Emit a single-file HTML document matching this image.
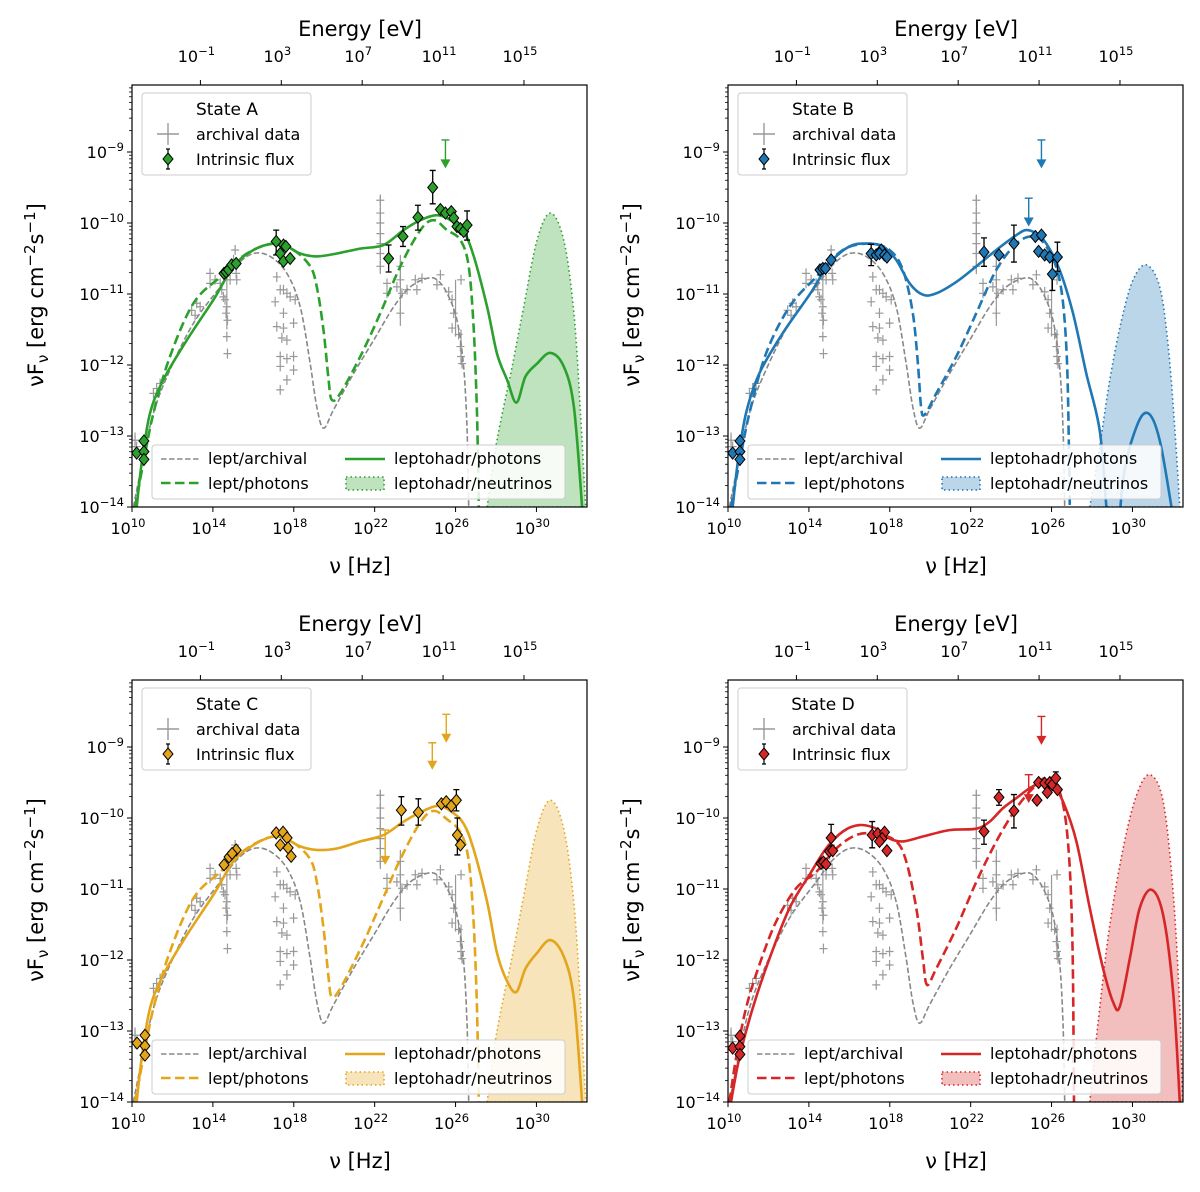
<!DOCTYPE html>
<html><head><meta charset="utf-8"><style>
html,body{margin:0;padding:0;background:#fff;}
svg{display:block;font-family:"DejaVu Sans","Liberation Sans",sans-serif;}
</style></head><body>
<svg id="fig" width="1200" height="1192" viewBox="0 0 1200 1192" xmlns="http://www.w3.org/2000/svg"></svg>
<script>
// ---------- shared data (log10 nu [Hz], log10 nuFnu) ----------
const leptArchNu=[10.07,10.40,11.06,11.88,13.04,14.36,15.18,16.01,16.83,17.66,18.32,18.81,19.14,19.47,19.97,20.96,21.95,22.94,23.76,24.59,25.08,25.58,26.07,26.40,26.57,26.65];
const leptArchF=[-14,-13.53,-12.68,-12.07,-11.41,-10.90,-10.59,-10.43,-10.47,-10.71,-11.18,-11.98,-12.59,-12.89,-12.63,-12.12,-11.65,-11.18,-10.90,-10.78,-10.80,-10.99,-11.37,-12.02,-12.92,-14];
const archNu=[10.15,10.23,11.06,11.22,11.39,12.95,13.2,13.37,13.12,13.86,13.86,14.11,14.36,14.44,14.52,14.6,14.69,14.65,14.72,14.69,14.72,14.85,15.1,15.02,15.15,15.18,17.16,17.33,17.49,17.66,17.82,18.07,17.08,17.49,17.16,17.49,17.99,17.41,17.66,17.33,17.66,17.99,17.33,17.99,17.66,17.33,22.28,22.28,22.28,22.28,22.28,22.28,22.28,22.61,22.61,23.27,23.27,23.35,23.27,23.1,23.6,24.09,24.01,24.34,25.08,25.25,25.66,25.83,25.91,25.83,26.15,26.24,26.27,26.32,26.27];
const archF=[-13.06,-13.15,-12.40,-12.33,-12.26,-11.23,-11.13,-11.18,-11.30,-10.71,-10.85,-10.80,-10.85,-10.94,-11.04,-11.08,-11.18,-11.27,-11.37,-11.60,-11.84,-10.80,-10.38,-10.52,-10.71,-10.80,-10.76,-10.94,-10.94,-10.99,-11.04,-11.08,-11.11,-11.27,-11.46,-11.48,-11.41,-11.62,-11.65,-11.88,-11.91,-11.88,-12.02,-12.07,-12.21,-12.35,-9.68,-9.86,-10.0,-10.15,-10.29,-10.43,-10.61,-10.85,-10.99,-10.61,-10.80,-10.99,-11.27,-10.90,-10.94,-10.94,-10.80,-10.78,-10.87,-10.73,-10.97,-11.08,-11.27,-11.48,-11.57,-11.74,-11.88,-11.98,-10.80];
const archErrNu=[22.28,23.27,14.69,10.15,26.0,26.27];
const archErrLo=[-10.72,-11.45,-11.5,-13.25,-11.6,-12.0];
const archErrHi=[-9.6,-10.45,-10.6,-12.95,-10.8,-11.5];
const tickY=[-14,-13,-12,-11,-10,-9];
const tickX=[10,14,18,22,26,30];
const tickE=[-1,3,7,11,15];

// ---------- State A ----------
const aSolidNu=[10.23,10.48,10.89,11.55,12.71,14.03,15.02,16.01,17.0,17.66,18.32,19.14,20.13,21.29,22.44,23.43,24.26,25.08,25.74,26.4,26.9,27.56,28.05,28.55,29.01,29.46,30.03,30.69,31.35,31.85,32.26];
const aSolidF=[-14,-13.38,-12.68,-12.21,-11.65,-11.08,-10.61,-10.38,-10.29,-10.33,-10.43,-10.47,-10.43,-10.36,-10.31,-10.10,-9.96,-9.89,-9.96,-10.12,-10.47,-11.18,-11.84,-12.21,-12.53,-12.16,-11.98,-11.83,-12.02,-12.59,-14];
const aDashNu=[10.15,10.56,11.06,11.88,13.04,14.36,15.68,17.0,17.99,18.81,19.14,19.47,19.72,19.88,20.3,21.29,22.28,23.27,24.26,24.92,25.58,26.24,26.65,26.9,27.06,27.15];
const aDashF=[-14,-13.38,-12.68,-11.88,-11.13,-10.76,-10.43,-10.29,-10.38,-10.61,-10.90,-11.51,-12.21,-12.49,-12.40,-11.88,-11.27,-10.61,-10.10,-9.96,-10.10,-10.24,-10.61,-11.51,-12.68,-14];
const aNeuNu=[27.56,28.05,28.8,29.37,30.03,30.69,31.35,31.85,32.18,32.43];
const aNeuF=[-14,-13.06,-12.02,-11.18,-10.24,-9.86,-10.24,-11.27,-12.68,-14];
const aPtNu=[10.23,10.59,10.59,10.59,14.55,14.65,14.77,14.93,15.15,17.13,17.49,17.61,17.33,17.49,17.82,22.69,23.40,24.14,24.87,25.25,25.50,25.79,25.91,26.07,26.24,26.40,26.57];
const aPtF=[-13.24,-13.07,-13.22,-13.33,-10.71,-10.69,-10.66,-10.59,-10.57,-10.26,-10.31,-10.33,-10.43,-10.54,-10.50,-10.50,-10.19,-9.92,-9.50,-9.81,-9.86,-9.84,-9.93,-10.05,-10.08,-10.12,-10.03];
const aErrNu=[22.69,23.40,24.14,24.87,26.57,17.13];
const aErrLo=[-10.69,-10.33,-10.10,-9.73,-10.24,-10.45];
const aErrHi=[-10.31,-10.05,-9.75,-9.26,-9.83,-10.10];
const aUlNu=[25.5];
const aUlTop=[-8.83];
const aUlTip=[-9.23];

// ---------- State B ----------
const bSolidNu=[10.23,10.48,10.89,11.55,12.71,14.03,15.02,16.01,16.83,17.66,18.32,18.98,19.64,20.3,21.29,22.28,23.27,24.26,24.75,25.25,25.74,26.4,27.06,27.72,28.38,28.71,29.04,29.54,30.2,30.78,31.35,31.93];
const bSolidF=[-14,-13.38,-12.68,-12.12,-11.55,-11.01,-10.57,-10.33,-10.29,-10.33,-10.52,-10.85,-11.01,-10.99,-10.83,-10.61,-10.38,-10.17,-10.10,-10.15,-10.29,-10.66,-11.27,-12.12,-12.92,-14,-15.2,-13.62,-12.87,-12.68,-13.06,-14];
const bDashNu=[10.15,10.56,11.06,11.88,13.04,14.36,15.68,17.0,17.99,18.65,19.14,19.39,19.55,19.72,20.3,21.29,22.28,23.27,24.26,25.08,25.74,26.4,26.73,26.86,26.9];
const bDashF=[-14,-13.38,-12.68,-11.84,-11.18,-10.76,-10.38,-10.29,-10.38,-10.66,-11.27,-11.98,-12.59,-12.70,-12.40,-11.88,-11.27,-10.66,-10.29,-10.19,-10.33,-10.80,-11.74,-13.15,-14];
const bNeuNu=[27.89,28.38,28.88,29.46,30.03,30.69,31.35,31.77,32.1,32.34];
const bNeuF=[-14,-13.15,-12.21,-11.37,-10.80,-10.59,-10.90,-11.74,-12.92,-14];
const bPtNu=[10.23,10.59,10.59,10.59,14.55,14.69,14.82,15.1,17.08,17.33,17.58,17.49,17.74,17.86,22.66,23.4,24.14,25.2,25.5,25.36,25.66,25.91,26.04,26.29];
const bPtF=[-13.24,-13.07,-13.22,-13.33,-10.66,-10.64,-10.64,-10.52,-10.43,-10.45,-10.38,-10.43,-10.45,-10.48,-10.41,-10.45,-10.29,-10.19,-10.17,-10.40,-10.45,-10.48,-10.72,-10.48];
const bErrNu=[22.66,24.14,26.04,26.29,17.08];
const bErrLo=[-10.61,-10.55,-10.95,-10.68,-10.60];
const bErrHi=[-10.21,-10.03,-10.52,-10.27,-10.30];
const bUlNu=[25.5,24.87];
const bUlTop=[-8.83,-9.65];
const bUlTip=[-9.23,-10.05];

// ---------- State C ----------
const cSolidNu=[10.23,10.48,10.89,11.55,12.71,14.03,15.02,16.01,17.0,17.66,18.32,19.14,20.13,21.29,22.44,23.43,24.26,25.08,25.74,26.4,26.9,27.56,28.05,28.55,29.01,29.46,30.03,30.69,31.35,31.85,32.26];
const cSolidF=[-14,-13.38,-12.68,-12.21,-11.65,-11.08,-10.61,-10.38,-10.26,-10.30,-10.40,-10.45,-10.43,-10.33,-10.24,-10.05,-9.92,-9.83,-9.90,-10.08,-10.45,-11.18,-11.90,-12.30,-12.45,-12.12,-11.90,-11.72,-11.95,-12.55,-14];
const cDashNu=[10.15,10.56,11.06,11.88,13.04,14.36,15.68,17.0,17.99,18.81,19.14,19.47,19.72,19.88,20.3,21.29,22.28,23.27,24.26,24.92,25.58,26.24,26.65,26.9,27.06,27.15];
const cDashF=[-14,-13.38,-12.68,-11.88,-11.13,-10.76,-10.43,-10.26,-10.35,-10.58,-10.90,-11.55,-12.25,-12.52,-12.40,-11.85,-11.22,-10.58,-10.06,-9.90,-10.02,-10.20,-10.60,-11.51,-12.68,-14];
const cNeuNu=[27.56,28.05,28.8,29.37,30.03,30.69,31.35,31.85,32.18,32.43];
const cNeuF=[-14,-13.0,-11.95,-11.10,-10.15,-9.75,-10.15,-11.2,-12.6,-14];
const cPtNu=[10.25,10.64,10.64,10.64,14.55,14.8,15.15,14.95,17.13,17.47,17.67,17.33,17.72,17.87,23.32,24.16,25.3,25.54,25.79,26.04,26.09,26.24];
const cPtF=[-13.17,-13.06,-13.21,-13.34,-10.66,-10.55,-10.45,-10.50,-10.21,-10.20,-10.28,-10.38,-10.42,-10.54,-9.89,-9.92,-9.80,-9.77,-9.83,-9.75,-10.24,-10.38];
const cErrNu=[23.32,24.16,26.09,26.04];
const cErrLo=[-10.1,-10.1,-10.52,-9.9];
const cErrHi=[-9.7,-9.73,-10.0,-9.6];
const cUlNu=[24.85,25.54,22.52];
const cUlTop=[-8.94,-8.54,-10.17];
const cUlTip=[-9.32,-8.94,-10.66];

// ---------- State D ----------
const dSolidNu=[10.15,10.56,11.22,12.05,13.04,14.03,14.85,15.68,16.5,17.33,17.99,18.65,19.64,20.96,22.28,22.94,23.6,24.26,24.92,25.58,26.07,26.57,27.23,27.89,28.55,29.04,29.37,29.87,30.36,30.94,31.52,32.01,32.34];
const dSolidF=[-14,-13.38,-12.68,-11.98,-11.27,-10.80,-10.43,-10.19,-10.10,-10.15,-10.29,-10.33,-10.26,-10.17,-10.15,-10.05,-9.86,-9.72,-9.58,-9.49,-9.54,-9.77,-10.33,-11.27,-12.12,-12.59,-12.66,-11.98,-11.27,-11.01,-11.37,-12.45,-14];
const dDashNu=[10.07,10.40,10.89,11.55,12.38,13.37,14.36,15.35,16.34,17.33,18.32,18.81,19.31,19.64,19.84,20.3,21.29,22.28,23.27,24.26,25.08,25.74,26.4,26.81,27.03,27.11];
const dDashF=[-14,-13.38,-12.68,-12.07,-11.46,-10.99,-10.76,-10.43,-10.24,-10.22,-10.33,-10.61,-11.27,-11.98,-12.35,-12.12,-11.55,-10.90,-10.33,-9.86,-9.58,-9.44,-9.63,-10.33,-11.74,-14];
const dNeuNu=[27.89,28.38,28.88,29.54,30.2,30.86,31.52,32.01,32.34,32.48];
const dNeuF=[-14,-12.68,-11.51,-10.43,-9.68,-9.39,-9.77,-11.04,-12.68,-14];
const dPtNu=[10.23,10.59,10.59,10.59,14.6,14.72,14.85,15.02,15.18,15.1,17.13,17.41,17.74,17.62,17.49,17.86,22.66,23.4,24.14,25.28,25.36,25.66,25.79,25.91,26.04,26.21,26.29];
const dPtF=[-13.24,-13.07,-13.22,-13.33,-10.64,-10.62,-10.65,-10.47,-10.46,-10.28,-10.24,-10.22,-10.20,-10.29,-10.33,-10.46,-10.19,-9.71,-9.90,-9.75,-9.50,-9.51,-9.64,-9.50,-9.53,-9.44,-9.60];
const dErrNu=[15.1,17.13,22.66,23.4,24.14,26.21];
const dErrLo=[-10.47,-10.42,-10.37,-9.82,-10.14,-9.56];
const dErrHi=[-10.09,-10.05,-10.03,-9.60,-9.67,-9.35];
const dUlNu=[25.5,24.87];
const dUlTop=[-8.57,-9.39];
const dUlTip=[-8.97,-9.79];

const panels=[
 {k:'a',label:'State A',ox:132,oy:85,col:'#2ca02c',fill:'rgba(44,160,44,0.3)',
  sN:aSolidNu,sF:aSolidF,dN:aDashNu,dF:aDashF,nN:aNeuNu,nF:aNeuF,pN:aPtNu,pF:aPtF,eN:aErrNu,eL:aErrLo,eH:aErrHi,uN:aUlNu,uT:aUlTop,uB:aUlTip},
 {k:'b',label:'State B',ox:728,oy:85,col:'#1f77b4',fill:'rgba(31,119,180,0.3)',
  sN:bSolidNu,sF:bSolidF,dN:bDashNu,dF:bDashF,nN:bNeuNu,nF:bNeuF,pN:bPtNu,pF:bPtF,eN:bErrNu,eL:bErrLo,eH:bErrHi,uN:bUlNu,uT:bUlTop,uB:bUlTip},
 {k:'c',label:'State C',ox:132,oy:680,col:'#e3a51b',fill:'rgba(227,165,27,0.3)',
  sN:cSolidNu,sF:cSolidF,dN:cDashNu,dF:cDashF,nN:cNeuNu,nF:cNeuF,pN:cPtNu,pF:cPtF,eN:cErrNu,eL:cErrLo,eH:cErrHi,uN:cUlNu,uT:cUlTop,uB:cUlTip},
 {k:'d',label:'State D',ox:728,oy:680,col:'#d62728',fill:'rgba(214,39,40,0.3)',
  sN:dSolidNu,sF:dSolidF,dN:dDashNu,dF:dDashF,nN:dNeuNu,nF:dNeuF,pN:dPtNu,pF:dPtF,eN:dErrNu,eL:dErrLo,eH:dErrHi,uN:dUlNu,uT:dUlTop,uB:dUlTip}
];

const NS='http://www.w3.org/2000/svg';
const svg=document.getElementById('fig');
const W=455,H=422,PXD=W/22.5,PYD=71;
function mk(tag,attrs,parent){const e=document.createElementNS(NS,tag);for(const k in attrs)e.setAttribute(k,attrs[k]);(parent||svg).appendChild(e);return e;}
function sup(parent,x,y,base,exp,size,anchor){
  const t=mk('text',{x:x,y:y,'font-size':size,'text-anchor':anchor||'middle',fill:'#000'},parent);
  t.appendChild(document.createTextNode(base));
  const s=mk('tspan',{dy:-size*0.45,'font-size':size*0.72},t);s.textContent=exp;
  return t;
}
function smooth(pts){
  let d='M'+pts[0][0].toFixed(1)+' '+pts[0][1].toFixed(1);
  for(let i=0;i<pts.length-1;i++){
    const p0=pts[Math.max(0,i-1)],p1=pts[i],p2=pts[i+1],p3=pts[Math.min(pts.length-1,i+2)];
    const c1=[p1[0]+(p2[0]-p0[0])/6,p1[1]+(p2[1]-p0[1])/6];
    const c2=[p2[0]-(p3[0]-p1[0])/6,p2[1]-(p3[1]-p1[1])/6];
    d+=`C${c1[0].toFixed(1)} ${c1[1].toFixed(1)} ${c2[0].toFixed(1)} ${c2[1].toFixed(1)} ${p2[0].toFixed(1)} ${p2[1].toFixed(1)}`;
  }
  return d;
}
const defs=mk('defs',{});

panels.forEach(p=>{
  const X=v=>p.ox+(v-10)*PXD;
  const Y=v=>p.oy+H-(v+14)*PYD;
  const g=mk('g',{});
  
  
  const cp=mk('clipPath',{id:'clip'+p.k},defs);
  mk('rect',{x:p.ox,y:p.oy,width:W,height:H},cp);
  const plot=mk('g',{'clip-path':'url(#clip'+p.k+')'},g);
  
  
  const pathOf=(N,F)=>smooth(N.map((n,i)=>[X(n),Y(F[i])]));
  const nf=mk('path',{d:pathOf(p.nN,p.nF)+' Z',fill:p.fill,stroke:p.col,'stroke-width':1.6,'stroke-dasharray':'1.5 3'},plot);
  
  
  archErrNu.forEach((n,i)=>{
    const l=mk('line',{x1:X(n),x2:X(n),y1:Y(archErrLo[i]),y2:Y(archErrHi[i]),stroke:'#999','stroke-width':1.2},plot);
    
    
  });
  archNu.forEach((n,i)=>{
    const x=X(n),y=Y(archF[i]);
    const c=mk('path',{d:`M${x-4} ${y}H${x+4}M${x} ${y-5}V${y+5}`,stroke:'#999','stroke-width':1.2},plot);
    
    
  });
  const la=mk('path',{d:pathOf(leptArchNu,leptArchF),fill:'none',stroke:'#888','stroke-width':1.6,'stroke-dasharray':'5.5 2.5'},plot);
  
  
  const ld=mk('path',{d:pathOf(p.dN,p.dF),fill:'none',stroke:p.col,'stroke-width':2.6,'stroke-dasharray':'9.5 4.5'},plot);
  
  
  const ls=mk('path',{d:pathOf(p.sN,p.sF),fill:'none',stroke:p.col,'stroke-width':2.6},plot);
  
  
  p.eN.forEach((n,i)=>{
    const x=X(n),y1=Y(p.eL[i]),y2=Y(p.eH[i]);
    const e=mk('path',{d:`M${x} ${y1}V${y2}M${x-3} ${y1}H${x+3}M${x-3} ${y2}H${x+3}`,stroke:'#000','stroke-width':1.3,fill:'none'},plot);
    
    
  });
  p.uN.forEach((n,i)=>{
    const x=X(n),y1=Y(p.uT[i]),y2=Y(p.uB[i]);
    const u=mk('path',{d:`M${x-4} ${y1}H${x+4}M${x} ${y1}V${y2-8}`,stroke:p.col,'stroke-width':1.4,fill:'none'},plot);
    
    
    const a=mk('path',{d:`M${x-5} ${y2-9}L${x+5} ${y2-9}L${x} ${y2}Z`,fill:p.col},plot);
    
    
  });
  p.pN.forEach((n,i)=>{
    const x=X(n),y=Y(p.pF[i]);
    const d=mk('path',{d:`M${x} ${y-6}L${x+5} ${y}L${x} ${y+6}L${x-5} ${y}Z`,fill:p.col,stroke:'#000','stroke-width':1},plot);
    
    
  });
  const fr=mk('rect',{x:p.ox,y:p.oy,width:W,height:H,fill:'none',stroke:'#000','stroke-width':1.2},g);
  
  
  for(let d=-14;d<=-9;d++){
    for(let m=1;m<10;m++){
      const v=d+Math.log10(m); if(v>-8.056)break;
      const y=Y(v);
      mk('line',{x1:p.ox-(m===1?5:3),x2:p.ox,y1:y,y2:y,stroke:'#000','stroke-width':m===1?1:0.8},g);
    }
  }
  if(Y(-8)>=p.oy) mk('line',{x1:p.ox-5,x2:p.ox,y1:Y(-8),y2:Y(-8),stroke:'#000'},g);
  tickY.forEach(v=>{
    const t=sup(g,p.ox-8,Y(v)+6,'10','\u2212'+(-v),16,'end');
    
    
  });
  tickX.forEach(v=>{
    mk('line',{x1:X(v),x2:X(v),y1:p.oy+H,y2:p.oy+H+5,stroke:'#000'},g);
    const t=sup(g,X(v)-4,p.oy+H+27,'10',String(v),16,'middle');
    
    
  });
  tickE.forEach(v=>{
    const x=X(v+14.383);
    mk('line',{x1:x,x2:x,y1:p.oy-5,y2:p.oy,stroke:'#000'},g);
    const t=sup(g,x-4,p.oy-23,'10',v<0?'\u2212'+(-v):String(v),16,'middle');
    
    
  });
  const xl=mk('text',{x:p.ox+228,y:p.oy+H+66,'font-size':21,'text-anchor':'middle'},g);
  xl.textContent='\u03bd [Hz]';
  
  
  const el=mk('text',{x:p.ox+228,y:p.oy-49,'font-size':21,'text-anchor':'middle'},g);
  el.textContent='Energy [eV]';
  
  
  const yl=mk('text',{x:0,y:0,'font-size':21,'text-anchor':'middle',transform:`translate(${p.ox-89},${p.oy+210}) rotate(-90)`},g);
  
  
  yl.appendChild(document.createTextNode('\u03bdF'));
  let s=mk('tspan',{dy:5,'font-size':15},yl);s.textContent='\u03bd';
  s=mk('tspan',{dy:-5},yl);s.textContent=' [erg cm';
  s=mk('tspan',{dy:-8,'font-size':15},yl);s.textContent='\u22122';
  s=mk('tspan',{dy:8},yl);s.textContent='s';
  s=mk('tspan',{dy:-8,'font-size':15},yl);s.textContent='\u22121';
  s=mk('tspan',{dy:8},yl);s.textContent=']';
  const lg=mk('g',{},g);
  
  
  mk('rect',{x:p.ox+10,y:p.oy+8,width:169,height:82,rx:3,fill:'#fff','fill-opacity':0.85,stroke:'#ccc'},lg);
  const st=mk('text',{x:p.ox+95,y:p.oy+30,'font-size':17,'text-anchor':'middle'},lg);st.textContent=p.label;
  mk('path',{d:`M${p.ox+25} ${p.oy+49}H${p.ox+47}M${p.ox+36} ${p.oy+38}V${p.oy+60}`,stroke:'#999','stroke-width':1.4},lg);
  const t1=mk('text',{x:p.ox+64,y:p.oy+55,'font-size':16},lg);t1.textContent='archival data';
  const cx=p.ox+36,cy=p.oy+74;
  mk('path',{d:`M${cx} ${cy-10}V${cy+10}M${cx-2} ${cy-10}H${cx+2}M${cx-2} ${cy+10}H${cx+2}`,stroke:'#000','stroke-width':1.2},lg);
  mk('path',{d:`M${cx} ${cy-6}L${cx+5} ${cy}L${cx} ${cy+6}L${cx-5} ${cy}Z`,fill:p.col,stroke:'#000'},lg);
  const t2=mk('text',{x:p.ox+64,y:p.oy+80,'font-size':16},lg);t2.textContent='Intrinsic flux';
  const ml=mk('g',{},g);
  
  
  const bx=p.ox+20,by=p.oy+360;
  mk('rect',{x:bx,y:by,width:413,height:54,rx:3,fill:'#fff','fill-opacity':0.85,stroke:'#ccc'},ml);
  mk('line',{x1:bx+9,x2:bx+47,y1:by+14,y2:by+14,stroke:'#888','stroke-width':1.6,'stroke-dasharray':'5.5 2.5'},ml);
  let tt=mk('text',{x:bx+56,y:by+19,'font-size':16},ml);tt.textContent='lept/archival';
  mk('line',{x1:bx+9,x2:bx+47,y1:by+38,y2:by+38,stroke:p.col,'stroke-width':2.6,'stroke-dasharray':'9.5 4.5'},ml);
  tt=mk('text',{x:bx+56,y:by+44,'font-size':16},ml);tt.textContent='lept/photons';
  mk('line',{x1:bx+193,x2:bx+233,y1:by+14,y2:by+14,stroke:p.col,'stroke-width':2.6},ml);
  tt=mk('text',{x:bx+242,y:by+19,'font-size':16},ml);tt.textContent='leptohadr/photons';
  mk('rect',{x:bx+194,y:by+32,width:38,height:13,fill:p.fill,stroke:p.col,'stroke-width':1.6,'stroke-dasharray':'1.5 3'},ml);
  tt=mk('text',{x:bx+242,y:by+44,'font-size':16},ml);tt.textContent='leptohadr/neutrinos';
});
</script>
</body></html>
